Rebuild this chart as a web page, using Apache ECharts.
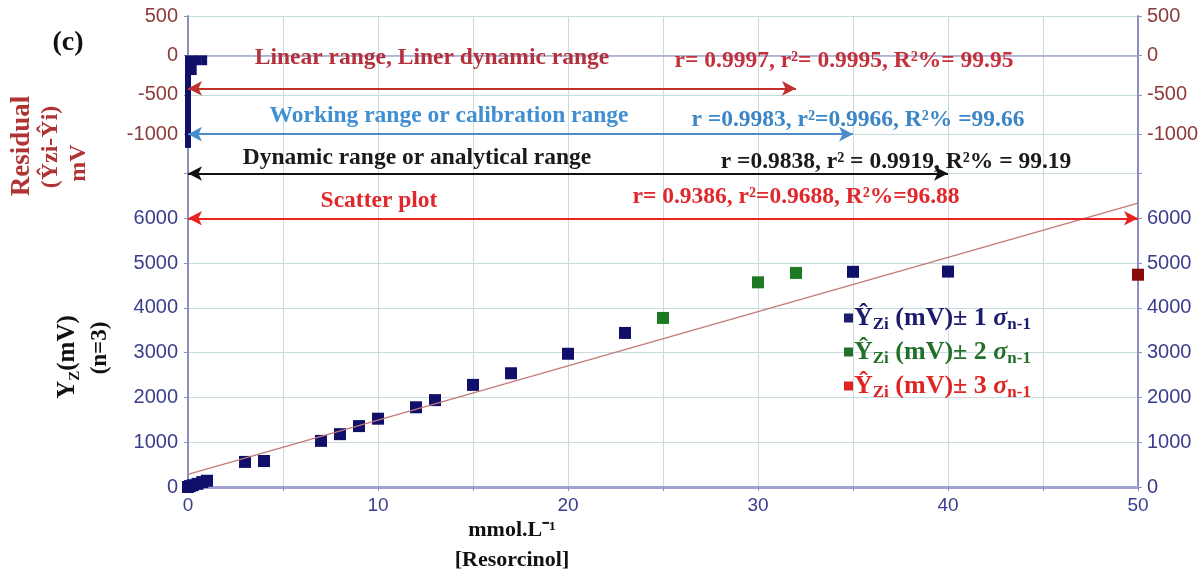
<!DOCTYPE html>
<html>
<head>
<meta charset="UTF-8">
<title>Resorcinol calibration</title>
<script src="https://cdn.jsdelivr.net/npm/echarts@6/dist/echarts.min.js"></script>
<style>html,body{margin:0;padding:0;background:#fff;}</style>
</head>
<body>
    <div id="main" style="width:1202px;height:573px;"></div>

    <script type="text/javascript">
        // tick labels
        var xTicks = [0, 10, 20, 30, 40, 50];
        var residTicks = [500, 0, -500, -1000];
        var respTicks = [0, 1000, 2000, 3000, 4000, 5000, 6000];

        // mean response (mV) vs concentration (mmol/L), grouped by +-sigma
        var conc1 = [0, 0.1, 0.25, 0.5, 0.75, 1, 3, 4, 7, 8, 9, 10, 12, 13, 15, 17, 20, 23, 35, 40];
        var resp1 = [0, 20, 40, 70, 110, 140, 560, 580, 1030, 1180, 1360, 1525, 1780, 1940, 2280, 2540, 2975, 3440, 4805, 4810];
        var conc2 = [25, 30, 32];
        var resp2 = [3775, 4570, 4780];
        var conc3 = [50];
        var resp3 = [4740];

        // residuals (mV)
        var residX = [0, 0.3, 0.55, 0.85];
        var residY = [-1175, -250, -125, -125];

        // linear fit, two ends
        var fitX = [0, 50];
        var fitY = [280, 6340];

        // range arrows: end concentration, height
        var rangeEnd = [32, 35, 40];
        var rangeLevel = [-420, -1000, -1500];
        var rangeColor = ['#c0302e', '#4a8ccc', '#111111'];
        var scatterEnd = 50;
        var scatterLevel = 6000;

        var serif = '"Liberation Serif", "Times New Roman", serif';
        var sans = '"Liberation Sans", Arial, sans-serif';
        var navy = '#3a3d8c';
        var brown = '#8c3a3a';

        function zip(a, b) {
            return a.map(function (v, i) { return [v, b[i]]; });
        }

        var myChart = echarts.init(document.getElementById('main'));

        var gridLine = { show: true, lineStyle: { color: '#c9dcdc', width: 1 } };
        var axisCol = '#8c8fc0';

        function txt(x, y, s, color, size, rot) {
            return {
                type: 'text', x: x, y: y, rotation: rot || 0, z: 50,
                style: {
                    text: s, fill: color, font: 'bold ' + size + 'px ' + serif,
                    textAlign: 'center', textVerticalAlign: 'middle'
                }
            };
        }

        var arrowLines = rangeEnd.map(function (e, i) {
            return [
                { coord: [0, rangeLevel[i]], lineStyle: { color: rangeColor[i], width: 2, type: 'solid' } },
                { coord: [e, rangeLevel[i]] }
            ];
        });

        var legendNames = ['1', '2', '3'];
        var legendCols = ['#1c1c6e', '#22702a', '#e02424'];

        var option = {
            animation: false,
            backgroundColor: '#fff',
            grid: [
                { left: 188, right: 64, top: 16, height: 157.5 },
                { left: 188, right: 64, top: 173.5, height: 313.5 }
            ],
            legend: {
                orient: 'vertical',
                left: 839,
                top: 300,
                itemWidth: 9,
                itemHeight: 9,
                itemGap: 6,
                icon: 'rect',
                data: legendNames.map(function (n, i) {
                    return { name: n, itemStyle: { color: legendCols[i] }, textStyle: { color: legendCols[i] } };
                }),
                formatter: function (n) {
                    return '{y|Ŷ}{sub|Zi}{t| (mV)± ' + n + ' }{s|σ}{sub|n-1}';
                },
                textStyle: {
                    fontFamily: serif, fontWeight: 'bold', fontSize: 26, padding: [0, 0, 0, -4],
                    rich: {
                        y: { fontFamily: serif, fontWeight: 'bold', fontSize: 26, lineHeight: 30 },
                        t: { fontFamily: serif, fontWeight: 'bold', fontSize: 26, lineHeight: 30 },
                        s: { fontFamily: serif, fontWeight: 'bold', fontStyle: 'italic', fontSize: 26, lineHeight: 30 },
                        sub: { fontFamily: serif, fontWeight: 'bold', fontSize: 17, lineHeight: 30, verticalAlign: 'bottom', padding: [9, 0, 0, 0] }
                    }
                }
            },
            xAxis: [
                {
                    type: 'value', gridIndex: 0, position: 'top', min: 0, max: 50, interval: 5,
                    axisLine: { show: true, lineStyle: { color: '#a3a6cf', width: 1.5 } },
                    axisTick: { show: false }, axisLabel: { show: false },
                    splitLine: gridLine
                },
                {
                    type: 'value', gridIndex: 1, position: 'bottom', min: 0, max: 50, interval: 5,
                    axisLine: { show: true, onZero: false, lineStyle: { color: '#a0a3d2', width: 3 } },
                    axisTick: { show: true, length: 4, lineStyle: { color: axisCol } },
                    axisLabel: {
                        color: navy, fontFamily: sans, fontSize: 19, margin: 9,
                        formatter: function (v) { return xTicks.indexOf(v) >= 0 ? String(v) : ''; }
                    },
                    splitLine: gridLine
                }
            ],
            yAxis: [
                {
                    type: 'value', gridIndex: 0, position: 'left', min: -1500, max: 500, interval: 500,
                    axisLine: { show: true, lineStyle: { color: axisCol, width: 2 } },
                    axisTick: { show: true, length: 4, lineStyle: { color: axisCol } },
                    axisLabel: {
                        color: brown, fontFamily: sans, fontSize: 20, margin: 10,
                        formatter: function (v) { return residTicks.indexOf(v) >= 0 ? String(v) : ''; }
                    },
                    splitLine: gridLine
                },
                {
                    type: 'value', gridIndex: 0, position: 'right', min: -1500, max: 500, interval: 500,
                    axisLine: { show: true, lineStyle: { color: axisCol, width: 2 } },
                    axisTick: { show: true, length: 4, lineStyle: { color: axisCol } },
                    axisLabel: {
                        color: brown, fontFamily: sans, fontSize: 20, margin: 9,
                        formatter: function (v) { return residTicks.indexOf(v) >= 0 ? String(v) : ''; }
                    },
                    splitLine: { show: false }
                },
                {
                    type: 'value', gridIndex: 1, position: 'left', min: 0, max: 7000, interval: 1000,
                    axisLine: { show: true, lineStyle: { color: axisCol, width: 2 } },
                    axisTick: { show: true, length: 4, lineStyle: { color: axisCol } },
                    axisLabel: {
                        color: navy, fontFamily: sans, fontSize: 20, margin: 10,
                        formatter: function (v) { return respTicks.indexOf(v) >= 0 ? String(v) : ''; }
                    },
                    splitLine: gridLine
                },
                {
                    type: 'value', gridIndex: 1, position: 'right', min: 0, max: 7000, interval: 1000,
                    axisLine: { show: true, lineStyle: { color: axisCol, width: 2 } },
                    axisTick: { show: true, length: 4, lineStyle: { color: axisCol } },
                    axisLabel: {
                        color: navy, fontFamily: sans, fontSize: 20, margin: 9,
                        formatter: function (v) { return respTicks.indexOf(v) >= 0 ? String(v) : ''; }
                    },
                    splitLine: { show: false }
                }
            ],
            series: [
                {
                    name: 'residual', type: 'bar', xAxisIndex: 0, yAxisIndex: 0,
                    barWidth: 6, itemStyle: { color: '#10106a' },
                    data: zip(residX, residY),
                    markLine: {
                        silent: true, symbol: ['arrow', 'arrow'], symbolSize: [11, 14],
                        label: { show: false },
                        data: arrowLines
                    }
                },
                {
                    name: 'fit', type: 'line', xAxisIndex: 1, yAxisIndex: 2,
                    data: zip(fitX, fitY), symbol: 'none', silent: true,
                    lineStyle: { color: '#c27a78', width: 1.3 },
                    markLine: {
                        silent: true, symbol: ['arrow', 'arrow'], symbolSize: [11, 14],
                        label: { show: false },
                        data: [[
                            { coord: [0, scatterLevel], lineStyle: { color: '#e8231f', width: 2, type: 'solid' } },
                            { coord: [scatterEnd, scatterLevel] }
                        ]]
                    }
                },
                {
                    name: '1', type: 'scatter', xAxisIndex: 1, yAxisIndex: 2,
                    symbol: 'rect', symbolSize: 12, itemStyle: { color: '#10106a', opacity: 1 },
                    data: zip(conc1, resp1)
                },
                {
                    name: '2', type: 'scatter', xAxisIndex: 1, yAxisIndex: 2,
                    symbol: 'rect', symbolSize: 12, itemStyle: { color: '#1c7a22', opacity: 1 },
                    data: zip(conc2, resp2)
                },
                {
                    name: '3', type: 'scatter', xAxisIndex: 1, yAxisIndex: 2,
                    symbol: 'rect', symbolSize: 12, itemStyle: { color: '#880a0a', opacity: 1 },
                    data: zip(conc3, resp3)
                }
            ],
            graphic: [
                txt(68, 43, '(c)', '#111', 28),
                txt(22, 146, 'Residual', '#b03434', 27, Math.PI / 2),
                txt(51, 147, '(Ŷzi-Ŷi)', '#b03434', 24, Math.PI / 2),
                txt(79, 163, 'mV', '#b03434', 24, Math.PI / 2),
                {
                    type: 'text', x: 68, y: 357, rotation: Math.PI / 2, z: 50,
                    style: {
                        text: '{a|Y}{b|Z}{a|(mV)}', fill: '#111', textAlign: 'center', textVerticalAlign: 'middle',
                        rich: {
                            a: { fontFamily: serif, fontWeight: 'bold', fontSize: 25, lineHeight: 30, fill: '#111' },
                            b: { fontFamily: serif, fontWeight: 'bold', fontSize: 15, lineHeight: 30, verticalAlign: 'bottom', padding: [10, 0, 0, 0], fill: '#111' }
                        }
                    }
                },
                txt(100, 348, '(n=3)', '#111', 23, Math.PI / 2),
                txt(432, 58, 'Linear range, Liner dynamic range', '#b3313b', 23.5),
                txt(844, 61, 'r= 0.9997, r²= 0.9995, R²%= 99.95', '#c4303c', 23.5),
                txt(449, 116, 'Working range or calibration range', '#3f8fd2', 23.5),
                txt(858, 120, 'r =0.9983, r²=0.9966, R²% =99.66', '#3c86c6', 23.5),
                txt(417, 158, 'Dynamic range or analytical range', '#1a1a1a', 23.5),
                txt(896, 162, 'r =0.9838, r² = 0.9919, R²% = 99.19', '#1a1a1a', 23.5),
                txt(379, 201, 'Scatter plot', '#e0282c', 23.5),
                txt(796, 197, 'r= 0.9386, r²=0.9688, R²%=96.88', '#e0282c', 23.5),
                txt(512, 530, 'mmol.L⁻¹', '#111', 22),
                txt(512, 560, '[Resorcinol]', '#111', 22)
            ]
        };

        myChart.setOption(option);
    </script>
</body>
</html>
